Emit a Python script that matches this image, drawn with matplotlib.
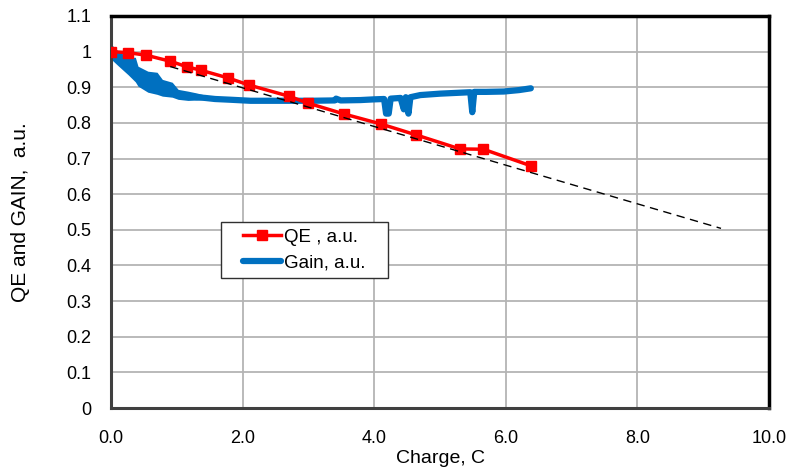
import matplotlib
matplotlib.use("Agg")
import matplotlib.pyplot as plt
from matplotlib.patches import Rectangle

# QE vs charge (markers)
qe_x = [0.0, 0.26, 0.53, 0.90, 1.16, 1.36, 1.78, 2.10, 2.70, 3.00, 3.54, 4.10, 4.64, 5.30, 5.66, 6.39]
qe_y = [1.000, 0.997, 0.990, 0.973, 0.957, 0.948, 0.926, 0.906, 0.875, 0.855, 0.825, 0.797, 0.766, 0.727, 0.726, 0.679]

# Gain vs charge, centre of the trace
gain_x = [0.00, 0.11, 0.26, 0.37, 0.41, 0.56, 0.70, 0.78, 0.93, 1.02, 1.17, 1.30, 1.43, 1.58,
          1.81, 2.12, 2.57, 3.03, 3.40, 3.42, 3.49, 3.79, 4.00, 4.15, 4.18, 4.22, 4.25, 4.40,
          4.45, 4.48, 4.52, 4.55, 4.70, 5.00, 5.46, 5.49, 5.52, 5.70, 5.97, 6.20, 6.38]
gain_y = [1.000, 0.982, 0.960, 0.950, 0.930, 0.915, 0.910, 0.898, 0.893, 0.880, 0.876, 0.872,
          0.870, 0.867, 0.865, 0.862, 0.862, 0.862, 0.863, 0.868, 0.863, 0.864, 0.866, 0.867,
          0.826, 0.826, 0.868, 0.870, 0.838, 0.872, 0.826, 0.872, 0.878, 0.882, 0.886, 0.830,
          0.887, 0.887, 0.888, 0.892, 0.897]

# Gain noise envelope at low charge
band_x = [0.00, 0.11, 0.26, 0.37, 0.41, 0.56, 0.70, 0.78, 0.93, 1.02, 1.17, 1.30, 1.43]
band_hi = [1.021, 1.001, 0.984, 0.984, 0.959, 0.945, 0.942, 0.922, 0.914, 0.894, 0.889, 0.884, 0.878]
band_lo = [0.979, 0.960, 0.935, 0.915, 0.903, 0.886, 0.880, 0.875, 0.872, 0.866, 0.863, 0.864, 0.866]

# linear extrapolation of QE (dashed)
fit_x = [0.9, 9.27]
fit_y = [0.958, 0.504]

plt.rcParams["font.family"] = ["Liberation Sans", "DejaVu Sans"]

fig, ax = plt.subplots(figsize=(7.89, 4.69), dpi=100)
fig.subplots_adjust(left=0.1407, right=0.9747, top=0.966, bottom=0.130)

blue = "#0070c0"
ax.plot(fit_x, fit_y, color="black", lw=1, dashes=(6, 4), zorder=4)
ax.plot(qe_x, qe_y, color="#ff0000", lw=2.5, marker="s", ms=7, label="QE , a.u.", zorder=3)
ax.fill_between(band_x, band_lo, band_hi, color=blue, lw=0, zorder=2)
ax.plot(gain_x, gain_y, color=blue, lw=4.5, label="Gain, a.u.", zorder=2,
        solid_joinstyle="round", solid_capstyle="round")

ax.set_xlim(0, 10)
ax.set_ylim(0, 1.1)
ax.set_xticks([0, 2, 4, 6, 8, 10])
ax.set_xticklabels(["0.0", "2.0", "4.0", "6.0", "8.0", "10.0"], fontsize=13)
yt = [i / 10 for i in range(12)]
ax.set_yticks(yt)
ax.set_yticklabels(["0", "0.1", "0.2", "0.3", "0.4", "0.5", "0.6", "0.7", "0.8", "0.9", "1", "1.1"],
                   fontsize=13)
ax.tick_params(axis="x", length=0, pad=16)
ax.tick_params(axis="y", length=0, pad=14)
ax.grid(True, color="#b4b4b4", lw=1.3)
ax.set_axisbelow(True)

for s in ["top", "right"]:
    ax.spines[s].set_color("black")
    ax.spines[s].set_linewidth(2.5)
for s in ["left", "bottom"]:
    ax.spines[s].set_color("#404040")
    ax.spines[s].set_linewidth(2.2)

ax.set_xlabel("Charge, C", fontsize=14, labelpad=2)
ax.set_ylabel("QE and GAIN,  a.u.", fontsize=15, labelpad=26)

# legend box drawn separately so its padding can match
ax.add_patch(Rectangle((0.167, 0.332), 0.254, 0.142, transform=ax.transAxes,
                       facecolor="white", edgecolor="#303030", lw=1, zorder=5))
leg = ax.legend(loc="center left", bbox_to_anchor=(0.2006, 0.403), fontsize=13.5,
                frameon=False, handlelength=2, handletextpad=0.2, borderpad=0,
                borderaxespad=0, labelspacing=0.45)
leg.set_zorder(6)

plt.savefig("out.png", dpi=100)
